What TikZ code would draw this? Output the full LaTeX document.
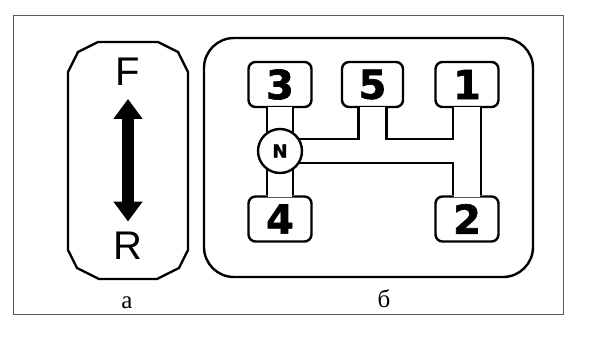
\documentclass[tikz,border=0pt]{standalone}
\usepackage{fontspec}
\setmainfont{Liberation Serif}
\newfontfamily\gearfont{DejaVu Sans Bold}[FakeBold=1.6]
\newfontfamily\dirfont{Liberation Sans}
\usetikzlibrary{arrows.meta, calc}

\begin{document}
\begin{tikzpicture}[
    x=1pt, y=-1pt,
    gear/.style={draw, line width=2.4pt, fill=white, rounded corners=7pt, minimum width=63pt, minimum height=45pt, inner sep=0pt, font=\gearfont\fontsize{40}{40}\selectfont},
    neutral/.style={draw, circle, line width=2.4pt, fill=white, minimum size=44pt, inner sep=0pt, font=\gearfont\fontsize{18}{18}\selectfont},
    dir/.style={inner sep=0pt, font=\dirfont\fontsize{40}{40}\selectfont},
    sublabel/.style={inner sep=0pt, font=\fontsize{25}{25}\selectfont},
    hole/.style={white, shorten <=-1.5pt, shorten >=-1.5pt}
  ]
    \useasboundingbox (0,0) rectangle (591,341);
    \draw[gray!70!black, line width=1pt] (13,15) rectangle (563,314);

    \draw[line width=2.4pt, line join=round] (98,42) -- (158,42) -- (178,52) -- (188,72) -- (188,250) -- (179,268) -- (157,279) -- (99,279) -- (77,268) -- (68,250) -- (68,72) -- (78,52) -- cycle;
    \node[dir] (F) at (128,72) {F};
    \node[dir] (R) at (128,245.5) {R};
    \draw[line width=12pt, {Triangle[length=20pt,width=28pt]}-{Triangle[length=20pt,width=28pt]}, shorten <=13pt, shorten >=10pt] (F) -- (R);
    \node[sublabel] (la) at (127,303) {а};

    \draw[line width=2.4pt, rounded corners=30pt] (204,38) rectangle (533,277);
    \node[gear] (g3) at (280,84.5) {3};
    \node[gear, minimum width=61pt] (g5) at (372.5,84.5) {5};
    \node[gear] (g1) at (467,84.5) {1};
    \node[gear] (g4) at (280,219) {4};
    \node[gear] (g2) at (467,219) {2};
    \coordinate (n) at (280,151);

    \draw[line width=28.4pt] (g3.south) -- (g4.north);
    \draw[line width=30.4pt] (g5.south) -- (g5.south |- n);
    \draw[line width=30.4pt] (g1.south) -- (g2.north);
    \draw[line width=26.4pt] (n) -- (n -| g1.south);
    \draw[hole, line width=23.6pt] (g3.south) -- (g4.north);
    \draw[hole, line width=25.6pt] (g5.south) -- (g5.south |- n);
    \draw[hole, line width=25.6pt] (g1.south) -- (g2.north);
    \draw[hole, line width=21.6pt] (n) -- (n -| g1.south);

    \node[neutral] (N) at (n) {N};
    \node[sublabel] (lb) at (384,298.5) {б};
  \end{tikzpicture}
\end{document}
